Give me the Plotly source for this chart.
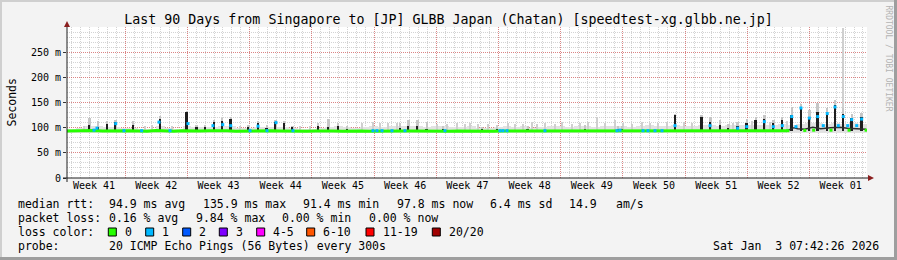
import pandas as pd
import plotly.graph_objects as go

# ---------------- data ----------------
graph_start = "2025-10-06 11:00"
graph_days = 90

week_mondays = ["2025-10-06", "2025-10-13", "2025-10-20", "2025-10-27", "2025-11-03",
                "2025-11-10", "2025-11-17", "2025-11-24", "2025-12-01", "2025-12-08",
                "2025-12-15", "2025-12-22", "2025-12-29"]
week_labels = ["Week 41", "Week 42", "Week 43", "Week 44", "Week 45", "Week 46", "Week 47",
               "Week 48", "Week 49", "Week 50", "Week 51", "Week 52", "Week 01"]

y_tick_vals = [0, 50, 100, 150, 200, 250]
y_tick_text = ["0", "50 m", "100 m", "150 m", "200 m", "250 m"]

# median rtt (ms), one value per day, loss 0 (green)
median_ms = [93.5, 94.0, 93.0, 94.5, 93.5, 94.0, 93.0, 94.0, 93.5, 93.0,
             94.5, 93.5, 93.0, 94.0, 94.5, 93.5, 94.0, 94.5, 94.0, 93.0,
             93.5, 94.0, 93.5, 94.0, 93.5, 93.0, 93.5, 93.0, 93.5, 94.0,
             93.5, 93.0, 93.5, 93.5, 93.0, 93.5, 93.5, 93.0, 93.5, 93.5,
             93.0, 93.5, 93.5, 93.0, 93.5, 93.0, 93.5, 93.5, 93.0, 93.5,
             93.5, 93.0, 93.5, 93.5, 93.0, 93.5, 93.0, 93.5, 93.5, 93.0,
             93.5, 93.5, 93.0, 93.5, 93.0, 93.5, 93.5, 93.5, 94.0, 93.0,
             93.5, 94.0, 93.5, 93.0, 93.5, 94.0, 93.5, 93.0, 93.5, 94.0,
             93.5, 94.0]

# light smoke band top (ms), one value per day
smoke_top = [97, 99, 103, 103, 101, 102, 99,
             100, 98, 98, 103, 99, 98, 103,
             101, 101, 102, 103, 103, 99, 100,
             102, 101, 102, 102, 99, 98, 98,
             100, 102, 103, 101, 99, 101, 103,
             102, 104, 103, 104, 103, 102, 103,
             104, 102, 101, 103, 100, 99, 102,
             103, 101, 103, 100, 102, 104, 103,
             101, 103, 103, 102, 104, 103, 104,
             102, 103, 105, 104, 103, 105, 104,
             104, 105, 105, 104, 105, 105, 106,
             105, 106, 106, 107, 106, 108, 110,
             110, 108, 110, 108, 109, 108]
smoke_floor = 90

# thin smoke hairlines (day offset, top ms)
hair_day = [1.91, 8.77, 9.56, 11.81, 19.46, 26.21, 27.34, 33.15, 34.46, 35.21,
            36.15, 37.09, 41.59, 42.72, 43.84, 44.77, 45.34, 46.27, 47.40, 48.34,
            49.65, 50.40, 51.33, 52.28, 52.84, 53.77, 54.90, 55.65, 56.78, 57.71,
            58.65, 59.59, 60.52, 61.65, 62.58, 63.53, 64.65, 65.59, 66.52, 67.46,
            69.41, 70.31, 74.92, 77.06, 79.09, 81.0, 87.33]
hair_top = [104, 104, 106, 103, 104, 104, 103, 109, 112, 109,
            110, 109, 108, 107, 109, 108, 109, 107, 108, 105,
            109, 108, 107, 111, 108, 109, 107, 112, 108, 109,
            112, 122, 109, 115, 109, 108, 112, 109, 110, 112,
            112, 110, 110, 113, 112, 114, 298]

# latency spikes (day offset, dense smoke top ms, outer smoke top ms)
spike_day = [2.51, 3.49, 4.53, 5.46, 7.42, 10.46, 13.47, 14.59, 15.52, 16.54,
             17.47, 18.43, 20.42, 21.49, 22.47, 23.46, 24.44, 25.35, 28.27, 29.42,
             30.52, 31.53, 37.46, 38.40, 39.43, 40.47, 42.33, 46.69, 48.37, 51.83,
             58.27, 61.99, 62.44, 68.40, 71.40, 72.41, 73.46, 74.40, 75.45, 76.47,
             77.48, 78.45, 79.46, 80.47, 81.53, 82.57, 83.51, 84.45, 85.53, 86.40,
             87.33, 88.28, 89.40]
spike_dark = [106, 102, 108, 112, 106, 118, 131, 101, 101, 111,
              114, 118, 101, 109, 100, 111, 110, 101, 104, 101,
              104, 98, 100, 103, 103, 98, 98, 97, 97, 97,
              98, 98, 98, 125, 122, 112, 106, 100, 104, 109,
              116, 117, 109, 116, 126, 141, 122, 132, 130, 145,
              128, 119, 122]
spike_grey = [119, 114, 113, 116, 114, 124, 134, 105, 106, 115,
              120, 121, 106, 113, 106, 115, 113, 104, 109, 118,
              110, 104, 110, 116, 116, 112, 103, 102, 102, 103,
              105, 104, 103, 128, 125, 122, 115, 108, 112, 118,
              122, 125, 115, 122, 142, 147, 135, 150, 140, 155,
              140, 128, 130]
spike_base = 93

# last days: median floor between spikes
floor_day = [81.0, 81.8, 82.2, 83.0, 83.9, 84.8, 85.9, 86.9, 87.8, 88.8, 89.9]
floor_ms = [94, 100, 98, 97, 101, 98, 100, 101, 99, 98, 97]
green_late_day = [81.1, 83.0, 84.0, 85.95, 87.98, 89.9]
green_late_ms = [94, 94.5, 95, 95, 95, 95]

# samples with 1/20 loss (cyan)
cyan_day = [3.04, 3.37, 5.48, 6.41, 8.40, 10.35, 11.59, 13.61, 16.42, 17.52,
            18.42, 20.59, 21.49, 22.50, 23.51, 25.42, 34.42, 34.87, 35.44, 36.56,
            38.02, 42.52, 48.71, 49.05, 49.50, 53.77, 61.87, 62.21, 64.80, 65.36,
            66.15, 66.94, 68.40, 72.34, 75.45, 76.47, 78.45, 79.46, 80.47, 81.53,
            82.01, 82.57, 83.51, 84.45, 85.08, 85.53, 86.40, 86.77, 87.33, 87.83,
            88.28, 88.84, 89.40]
cyan_ms = [95, 99, 108, 94, 94, 111, 94, 108, 104, 106,
           104, 94, 103, 94, 110, 94, 94, 94, 94, 94,
           94, 94, 94, 94, 94, 94, 94, 95, 94, 94,
           94, 94, 104, 104, 99, 102, 112, 102, 104, 122,
           102, 139, 119, 122, 104, 128, 141, 104, 122, 104,
           116, 104, 117]

loss_labels = ["0", "1", "2", "3", "4-5", "6-10", "11-19", "20/20"]
loss_colors = ["#26ff00", "#00b8ff", "#0059ff", "#7e00ff", "#ff00ff", "#ff5500", "#ff0000", "#a00000"]

title_text = "Last 90 Days from Singapore to [JP] GLBB Japan (Chatan) [speedtest-xg.glbb.ne.jp]"
stats_rtt = ["median rtt:", "94.9 ms avg", "135.9 ms max", "91.4 ms min", "97.8 ms now", "6.4 ms sd", "14.9", "am/s"]
stats_loss = ["packet loss:", "0.16 % avg", "9.84 % max", "0.00 % min", "0.00 % now"]
probe_text = ["probe:", "20 ICMP Echo Pings (56 Bytes) every 300s"]
stamp_text = "Sat Jan\u00a0\u00a03 07:42:26 2026"

# ---------------- build ----------------
start = pd.Timestamp(graph_start)
end = start + pd.Timedelta(days=graph_days)


def T(days):
    return start + pd.to_timedelta(pd.Series(days, dtype=float), unit="D")


DAY_MS = 86400000
PX_MS = graph_days * DAY_MS / 800.0
MONO = "DejaVu Sans Mono"

fig = go.Figure()

# light smoke band
fig.add_trace(go.Bar(x=T([d + 0.5 for d in range(len(smoke_top))]),
                     y=[v - smoke_floor for v in smoke_top], base=smoke_floor,
                     width=DAY_MS, marker=dict(color="#e2e2e2", line=dict(width=0))))
# hairlines
fig.add_trace(go.Bar(x=T(hair_day), y=[v - spike_base for v in hair_top], base=spike_base,
                     width=1.0 * PX_MS, marker=dict(color="#cfcfcf", line=dict(width=0))))
# outer smoke of spikes
fig.add_trace(go.Bar(x=T(spike_day), y=[v - spike_base for v in spike_grey], base=spike_base,
                     width=2.4 * PX_MS, marker=dict(color="#c6c6c6", line=dict(width=0))))
# dense smoke of spikes
fig.add_trace(go.Bar(x=T(spike_day), y=[v - spike_base for v in spike_dark], base=spike_base,
                     width=1.7 * PX_MS, marker=dict(color="#1e1e1e", line=dict(width=0))))
# late floor
fig.add_trace(go.Scatter(x=T(floor_day), y=floor_ms, mode="lines",
                         line=dict(color="#2e2e2e", width=1.5)))
# median (loss 0)
fig.add_trace(go.Scatter(x=T(list(range(len(median_ms)))), y=median_ms, mode="lines",
                         line=dict(color=loss_colors[0], width=3)))
fig.add_trace(go.Scatter(x=T(green_late_day), y=green_late_ms, mode="markers",
                         marker=dict(color=loss_colors[0], size=3, symbol="square", line=dict(width=0))))
# loss 1 samples
fig.add_trace(go.Scatter(x=T(cyan_day), y=cyan_ms, mode="markers",
                         marker=dict(color=loss_colors[1], size=3, symbol="square", line=dict(width=0))))
# helper trace for the label axis
fig.add_trace(go.Scatter(x=[start, end], y=[None, None], xaxis="x2", yaxis="y",
                         mode="lines", showlegend=False))

label_pos = [pd.Timestamp(m) + pd.Timedelta(days=3.5) for m in week_mondays]

grid_major = "rgba(225,70,70,0.55)"
grid_minor = "rgba(150,150,150,0.42)"

fig.update_layout(
    width=897, height=260,
    margin=dict(l=67, r=30, t=27, b=82, pad=0),
    paper_bgcolor="#f3f3f3", plot_bgcolor="#ffffff",
    showlegend=False, hovermode=False, barmode="overlay", bargap=0,
    font=dict(family=MONO, size=10, color="#000000"),
    title=dict(text=title_text, x=0.5, xref="container", xanchor="center",
               y=(260 - 19.5) / 260, yref="container", yanchor="middle",
               font=dict(family=MONO, size=13.3, color="#000000")),
    xaxis=dict(type="date", range=[start, end], tickmode="array", tickvals=week_mondays,
               showticklabels=False, ticks="", showgrid=True, gridcolor=grid_major,
               griddash="1px,1px", gridwidth=1, zeroline=False, showline=False,
               minor=dict(tickmode="linear", tick0="2025-10-06", dtick=DAY_MS,
                          showgrid=True, gridcolor=grid_minor, griddash="1px,1px", ticks="")),
    xaxis2=dict(type="date", overlaying="x", anchor="y", side="bottom", range=[start, end],
                tickmode="array", tickvals=label_pos, ticktext=week_labels,
                showgrid=False, ticks="", zeroline=False, showline=False,
                tickfont=dict(family=MONO, size=10, color="#000000")),
    yaxis=dict(range=[0, 300], tickmode="array", tickvals=y_tick_vals, ticktext=y_tick_text,
               ticks="outside", ticklen=3, tickcolor="#333333", showgrid=True,
               gridcolor=grid_major, griddash="1px,1px", zeroline=False, showline=False,
               tickfont=dict(family=MONO, size=10, color="#000000"),
               minor=dict(tickmode="linear", tick0=0, dtick=10, showgrid=True,
                          gridcolor=grid_minor, griddash="1px,1px", ticks="")),
)


def PX(x):
    return (x - 67) / 800.0


def PY(y):
    return (178 - y) / 151.0


shapes = []
# frame shading
shapes += [
    dict(type="rect", xref="paper", yref="paper", x0=PX(0), x1=PX(897), y0=PY(0), y1=PY(2),
         fillcolor="#cfcfcf", line=dict(width=0)),
    dict(type="rect", xref="paper", yref="paper", x0=PX(0), x1=PX(2), y0=PY(0), y1=PY(260),
         fillcolor="#cfcfcf", line=dict(width=0)),
    dict(type="rect", xref="paper", yref="paper", x0=PX(0), x1=PX(897), y0=PY(257), y1=PY(260),
         fillcolor="#9e9e9e", line=dict(width=0)),
    dict(type="rect", xref="paper", yref="paper", x0=PX(894), x1=PX(897), y0=PY(0), y1=PY(260),
         fillcolor="#9e9e9e", line=dict(width=0)),
]
# axes and arrows
shapes += [
    dict(type="line", xref="paper", yref="paper", x0=PX(63), x1=PX(869), y0=0, y1=0,
         line=dict(color="#1f1f1f", width=1)),
    dict(type="line", xref="paper", yref="paper", x0=0, x1=0, y0=PY(182), y1=PY(24),
         line=dict(color="#1f1f1f", width=1)),
    dict(type="path", xref="paper", yref="paper",
         path=f"M {PX(64)},{PY(27)} L {PX(70)},{PY(27)} L {PX(67)},{PY(21)} Z",
         fillcolor="#8b1f1f", line=dict(width=0)),
    dict(type="path", xref="paper", yref="paper",
         path=f"M {PX(868)},{PY(175)} L {PX(868)},{PY(181)} L {PX(874)},{PY(178)} Z",
         fillcolor="#8b1f1f", line=dict(width=0)),
]

annotations = []


def ann(x, y, text, anchor="left", size=11.5, color="#000000", angle=0):
    annotations.append(dict(x=PX(x), y=PY(y), xref="paper", yref="paper", text=text,
                            showarrow=False, xanchor=anchor, yanchor="middle",
                            textangle=angle,
                            font=dict(family=MONO, size=size, color=color)))


ann(11.5, 102, "Seconds", anchor="center", angle=-90)
ann(888.5, 58, "RRDTOOL / TOBI OETIKER", anchor="center", size=8, color="#b4b4b4", angle=90)

row_y = [203.5, 217.5, 231.5, 245.5]
rtt_x = [16, 107.3, 200.8, 301.3, 394.8, 488.3, 567, 614.3]
for x, s in zip(rtt_x, stats_rtt):
    ann(x, row_y[0], s)
loss_x = [16, 107.3, 194, 280, 366.5]
for x, s in zip(loss_x, stats_loss):
    ann(x, row_y[1], s)
ann(16, row_y[2], "loss color:")
box_x = [108.3, 145.7, 182.7, 219.3, 256.7, 306.7, 366.0, 432.3]
for bx, lab, col in zip(box_x, loss_labels, loss_colors):
    shapes.append(dict(type="rect", xref="paper", yref="paper", x0=PX(bx), x1=PX(bx + 8),
                       y0=PY(236), y1=PY(228), fillcolor=col, line=dict(color="#000000", width=1)))
    ann(bx + 14.5, row_y[2], lab)
ann(16, row_y[3], probe_text[0])
ann(107.3, row_y[3], probe_text[1])
ann(880.5, row_y[3], stamp_text, anchor="right")

fig.update_layout(shapes=shapes, annotations=annotations)
fig.write_html("out.html")
